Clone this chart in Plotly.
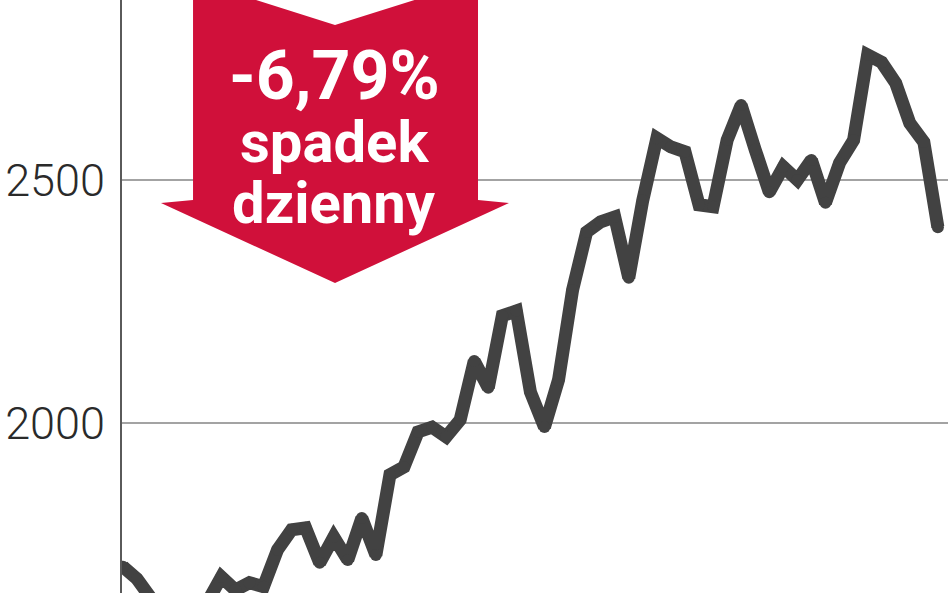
import plotly.graph_objects as go

# sesje (dni notowań) i wartość indeksu
sesje = list(range(59))
wartosci = [
    1705, 1680, 1640, 1612, 1600, 1618, 1632, 1684, 1657, 1672,
    1664, 1740, 1781, 1785, 1713, 1766, 1719, 1805, 1729, 1894,
    1910, 1982, 1992, 1972, 2007, 2128, 2073, 2221, 2231, 2064,
    1992, 2089, 2274, 2393, 2414, 2424, 2299, 2459, 2586, 2568,
    2558, 2449, 2445, 2582, 2654, 2562, 2475, 2527, 2500, 2541,
    2453, 2535, 2582, 2757, 2742, 2699, 2617, 2578, 2403,
]
y_ticks = [2000, 2500]
y_labels = ["2000", "2500"]
zmiana = "-6,79%"
opis = ["spadek", "dzienny"]

W, H = 948, 593
L = 122
LINE_COL = "#424242"
RED = "#d0103a"


def px2paper(x, y):
    # piksele okna -> współrzędne paper obszaru wykresu
    return (x - L) / (W - L), 1 - y / H


fig = go.Figure()
fig.add_trace(go.Scatter(
    x=sesje, y=wartosci, mode="lines+markers",
    line=dict(color=LINE_COL, width=13),
    marker=dict(color=LINE_COL, size=12),
    hoverinfo="skip", showlegend=False,
))

# czerwona strzałka w dół
arrow = [(193, -20), (335, 25), (478, -20), (478, 200), (509, 203),
         (335, 283), (161, 203), (193, 200)]
pts = [px2paper(x, y) for x, y in arrow]
path = "M " + " L ".join(f"{a:.4f},{b:.4f}" for a, b in pts) + " Z"
fig.add_shape(type="path", path=path, xref="paper", yref="paper",
              fillcolor=RED, line=dict(width=0), layer="above")

cx = px2paper(334, 0)[0]
napisy = [(zmiana, 76, 68), (opis[0], 142, 58), (opis[1], 203, 58)]
for txt, yc, size in napisy:
    fig.add_annotation(text=txt, x=cx, y=px2paper(0, yc)[1], xref="paper", yref="paper",
                       showarrow=False, xanchor="center", yanchor="middle",
                       font=dict(family="Roboto", size=size, color="white", weight="bold"))

fig.update_xaxes(range=[-0.07, 58.72], visible=False, showgrid=False, zeroline=False)
fig.update_yaxes(
    range=[1651, 2870], tickvals=y_ticks, ticktext=y_labels,
    showgrid=True, gridcolor="#a3a3a3", gridwidth=1.5, zeroline=False,
    showline=True, linecolor="#5a5a5a", linewidth=2,
    ticks="", ticklabelstandoff=6, automargin=False,
    tickfont=dict(family="Roboto", size=45, color="#2a2a2a", weight=300),
)
fig.update_layout(
    width=W, height=H, margin=dict(l=L, r=0, t=0, b=0),
    plot_bgcolor="white", paper_bgcolor="white",
)
fig.write_html("out.html", config={"displayModeBar": False},
               post_script="document.body.style.margin='0';")
